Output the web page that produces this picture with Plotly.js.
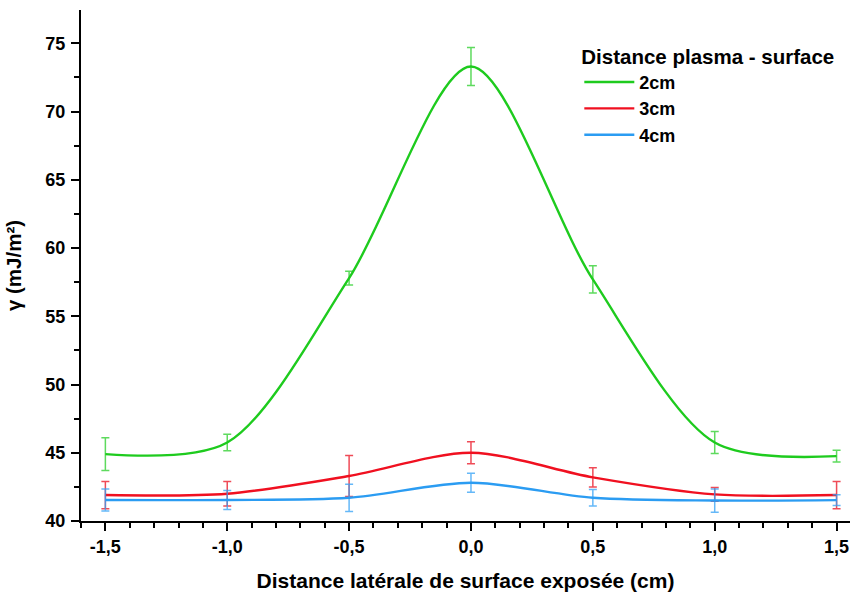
<!DOCTYPE html>
<html>
<head>
<meta charset="utf-8">
<script src="https://cdn.plot.ly/plotly-3.0.1.min.js"></script>
<style>html,body{margin:0;padding:0;background:#fff;}#chart{width:850px;height:596px;}</style>
</head>
<body>
<div id="chart"></div>
<script>
// Data
const xPos = [-1.5, -1.0, -0.5, 0.0, 0.5, 1.0, 1.5];
const xTickVals = [-1.5, -1.0, -0.5, 0.0, 0.5, 1.0, 1.5];
const xTickText = ["-1,5", "-1,0", "-0,5", "0,0", "0,5", "1,0", "1,5"];
const yTickVals = [40, 45, 50, 55, 60, 65, 70, 75];
const yTickText = ["40", "45", "50", "55", "60", "65", "70", "75"];
const seriesNames = ["2cm", "3cm", "4cm"];
const gamma2cm = [44.9, 45.75, 57.8, 73.3, 57.7, 45.75, 44.75];
const err2cm   = [1.2, 0.6, 0.5, 1.4, 1.0, 0.8, 0.43];
const gamma3cm = [41.9, 42.0, 43.3, 45.0, 43.2, 41.95, 41.9];
const err3cm   = [1.0, 0.9, 1.5, 0.8, 0.7, 0.5, 1.0];
const gamma4cm = [41.54, 41.54, 41.7, 42.8, 41.7, 41.5, 41.53];
const err4cm   = [0.8, 0.7, 1.0, 0.7, 0.6, 0.85, 0.4];

const lineColors = ["#1ecb1e", "#f01020", "#2b9cf2"];
const errColors = ["rgba(40,205,40,0.75)", "rgba(235,30,45,0.8)", "rgba(50,160,245,0.75)"];
const ys = [gamma2cm, gamma3cm, gamma4cm];
const es = [err2cm, err3cm, err4cm];
const b = s => '<b>' + s + '</b>';

const traces = seriesNames.map((name, i) => ({
  type: 'scatter',
  mode: 'lines',
  name: b(name),
  legendgroup: name,
  x: xPos,
  y: ys[i],
  line: {color: lineColors[i], width: 2.4, shape: 'spline', smoothing: 0.85},
  error_y: {type: 'data', array: es[i], visible: true, color: errColors[i], thickness: 1.5, width: 4}
}));

const font = "'Liberation Sans', Arial, sans-serif";
const layout = {
  width: 850, height: 596,
  margin: {l: 81, r: 0, t: 10, b: 75},
  paper_bgcolor: '#fff', plot_bgcolor: '#fff',
  font: {family: font, color: '#000'},
  showlegend: true,
  legend: {
    x: 0.648, y: 0.947, xanchor: 'left', yanchor: 'top',
    bgcolor: 'rgba(0,0,0,0)',
    itemwidth: 50,
    font: {family: font, size: 18, color: '#000'},
    title: {text: b('Distance plasma - surface'), font: {family: font, size: 20.5, color: '#000'}},
    tracegroupgap: 0
  },
  xaxis: {
    range: [-1.6, 1.555],
    tickmode: 'array', tickvals: xTickVals, ticktext: xTickText.map(b),
    ticks: 'outside', ticklen: 8, tickwidth: 2, tickcolor: '#000',
    minor: {dtick: 0.1, ticks: 'outside', ticklen: 5, tickwidth: 2, tickcolor: '#000', showgrid: false},
    showline: true, linewidth: 2, linecolor: '#000',
    showgrid: false, zeroline: false,
    tickfont: {family: font, size: 18},
    title: {text: b('Distance latérale de surface exposée (cm)'), font: {family: font, size: 21}, standoff: 18}
  },
  xaxis2: {
    overlaying: 'x', side: 'top', anchor: 'y',
    range: [-1.6, 1.555],
    tickmode: 'array', tickvals: xTickVals, showticklabels: false,
    ticks: 'inside', ticklen: 6, tickwidth: 2, tickcolor: '#000',
    minor: {dtick: 0.1, ticks: 'inside', ticklen: 4, tickwidth: 2, tickcolor: '#000', showgrid: false},
    showline: true, linewidth: 2, linecolor: '#000',
    showgrid: false, zeroline: false
  },
  yaxis: {
    range: [40, 77.44],
    tickmode: 'array', tickvals: yTickVals, ticktext: yTickText.map(b),
    ticks: 'outside', ticklen: 8, tickwidth: 2, tickcolor: '#000',
    ticklabelstandoff: 2,
    minor: {dtick: 2.5, tick0: 40, ticks: 'outside', ticklen: 5, tickwidth: 2, tickcolor: '#000', showgrid: false},
    showline: true, linewidth: 2, linecolor: '#000',
    showgrid: false, zeroline: false,
    tickfont: {family: font, size: 18},
    title: {text: b('γ (mJ/m²)'), font: {family: font, size: 20.5}, standoff: 18}
  }
};

Plotly.newPlot('chart', traces, layout, {displayModeBar: false, staticPlot: true});
</script>
</body>
</html>
